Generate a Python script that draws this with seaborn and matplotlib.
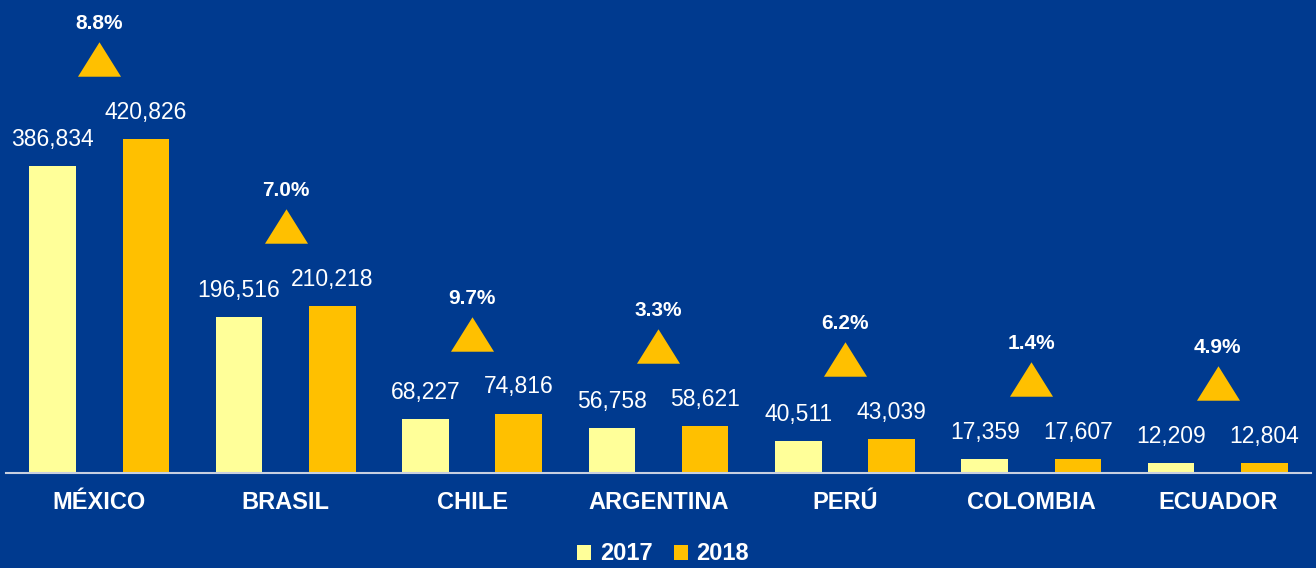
import pandas as pd
import matplotlib
matplotlib.use("Agg")
import matplotlib.pyplot as plt
import matplotlib.transforms as mtransforms
from matplotlib.patches import Patch
import seaborn as sns

countries = ["MÉXICO", "BRASIL", "CHILE", "ARGENTINA", "PERÚ", "COLOMBIA", "ECUADOR"]
v2017 = [386834, 196516, 68227, 56758, 40511, 17359, 12209]
v2018 = [420826, 210218, 74816, 58621, 43039, 17607, 12804]
growth = ["8.8%", "7.0%", "9.7%", "3.3%", "6.2%", "1.4%", "4.9%"]
years = ["2017", "2018"]

bg = "#003A8F"
colors = {"2017": "#FFFF99", "2018": "#FFC000"}

df = pd.DataFrame({
    "country": countries * 2,
    "year": ["2017"] * len(countries) + ["2018"] * len(countries),
    "value": v2017 + v2018,
})

sns.set_style("white")
plt.rcParams["font.family"] = ["Liberation Sans", "DejaVu Sans"]

fig = plt.figure(figsize=(13.16, 5.68), dpi=100, facecolor=bg)
ax = fig.add_axes([6 / 1316, 95 / 568, 1305 / 1316, 473 / 568])
ax.set_facecolor(bg)

sns.barplot(data=df, x="country", y="value", hue="year", palette=colors,
            width=1.0, gap=0.5, saturation=1, linewidth=0, legend=False, ax=ax)

for c in ax.containers:
    ax.bar_label(c, fmt="{:,.0f}", color="white", fontsize=16.5, padding=11)

# triangles + growth labels
tri = [(-1, -0.8), (1, -0.8), (0, 0.8)]
tri_tr = mtransforms.offset_copy(ax.transData, fig=fig, x=0, y=80, units="dots")
lab_tr = mtransforms.offset_copy(ax.transData, fig=fig, x=0, y=106, units="dots")
for i, (a, b) in enumerate(zip(v2017, v2018)):
    top = max(a, b)
    ax.scatter([i], [top], marker=tri, s=43 ** 2 * 0.52, color="#FFC000",
               linewidths=0, transform=tri_tr, clip_on=False, zorder=5)
    ax.text(i, top, growth[i], transform=lab_tr, ha="center", va="bottom",
            color="white", fontsize=15, fontweight="bold")

ax.set_xlim(-0.5, len(countries) - 0.5)
ax.set_ylim(0, 596000)
ax.set_xlabel("")
ax.set_ylabel("")
ax.set_yticks([])
ax.tick_params(axis="x", length=0, pad=13, labelsize=17, labelcolor="white")
for t in ax.get_xticklabels():
    t.set_fontweight("bold")
for s in ["top", "left", "right"]:
    ax.spines[s].set_visible(False)
ax.spines["bottom"].set_color("#C8D0E0")
ax.spines["bottom"].set_linewidth(1.5)

handles = [Patch(facecolor=colors[y], edgecolor="none", label=y) for y in years]
leg = fig.legend(handles=handles, loc="center", bbox_to_anchor=(663 / 1316, 1 - 554 / 568),
                 ncol=2, frameon=False, handlelength=0.6, handleheight=0.6,
                 handletextpad=0.35, columnspacing=0.9,
                 prop={"size": 17, "weight": "bold"})
for t in leg.get_texts():
    t.set_color("white")

fig.savefig("out.png", dpi=100, facecolor=bg)
